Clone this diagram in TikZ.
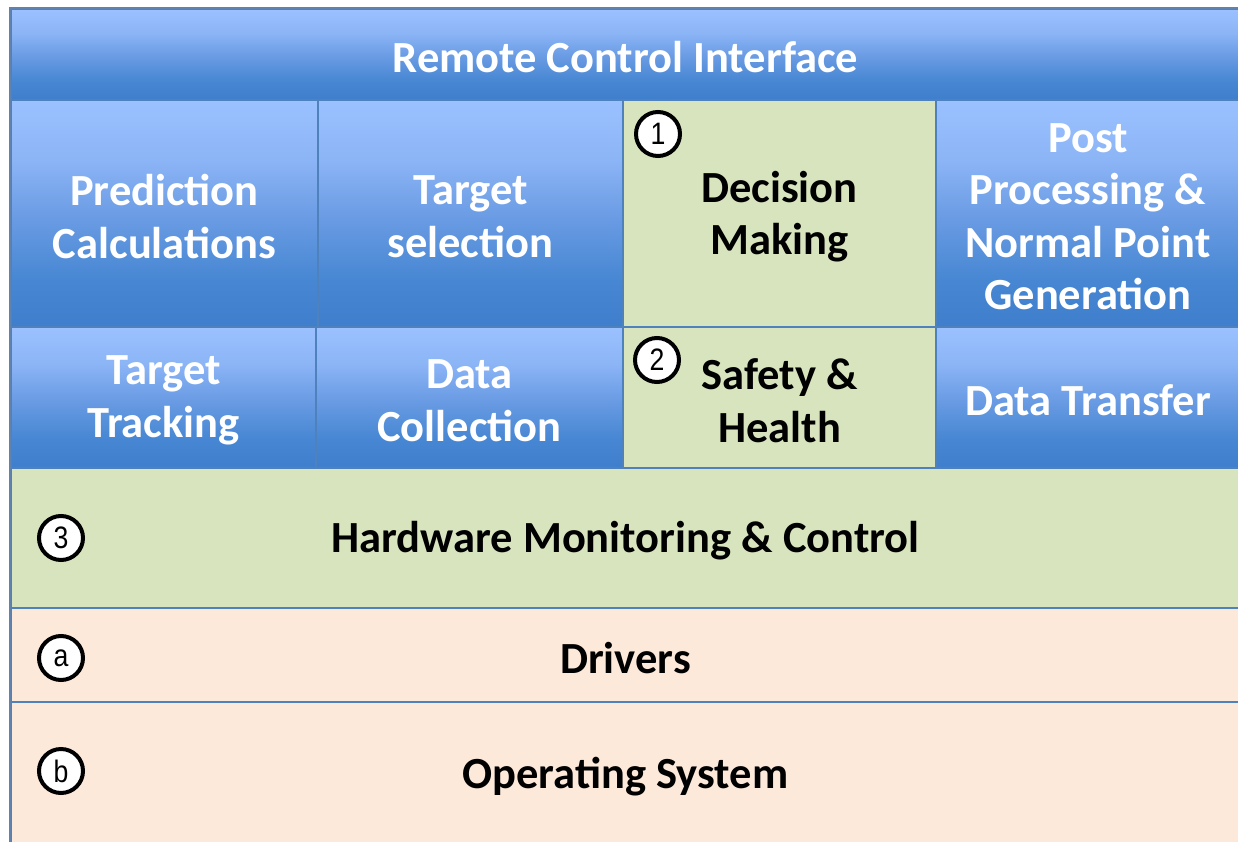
\documentclass[tikz,border=0pt]{standalone}
\usepackage{fontspec}
\usepackage{graphicx}
\setmainfont{Carlito}
\newfontfamily\badgefont{Liberation Sans}

\definecolor{blueTop}{RGB}{155,193,255}
\definecolor{blueUpper}{RGB}{140,181,246}
\definecolor{blueMid}{RGB}{108,157,229}
\definecolor{blueLow}{RGB}{70,134,210}
\definecolor{blueBase}{RGB}{63,126,204}
\definecolor{gridline}{RGB}{79,129,189}
\definecolor{outline}{RGB}{95,130,175}
\definecolor{greenFill}{RGB}{216,228,190}
\definecolor{peachFill}{RGB}{253,233,218}

% light blue at the top, deepening towards the bottom edge
\pgfdeclareverticalshading{tilebluegrad}{100bp}{%
  color(0bp)=(blueBase); color(25bp)=(blueBase); color(35bp)=(blueLow);
  color(50bp)=(blueMid); color(62bp)=(blueUpper); color(75bp)=(blueTop);
  color(100bp)=(blueTop)}

\newcommand{\tilefont}{\fontsize{44.5}{52.5}\selectfont\bfseries}
\newcommand{\badgetext}[1]{\scalebox{0.86}[1]{#1}}

\begin{document}
\begin{tikzpicture}[x=1pt,y=-1pt,
  tile/.style={rectangle, inner sep=0pt, draw=gridline, line width=1.6pt},
  tiletext/.style={align=center, font=\tilefont, yshift=-3pt, inner sep=0pt},
  bluetile/.style={tile, shading=tilebluegrad,
    label={[tiletext, text=white]center:#1}},
  greentile/.style={tile, fill=greenFill,
    label={[tiletext, text=black]center:#1}},
  peachtile/.style={tile, fill=peachFill,
    label={[tiletext, text=black]center:#1}},
  badge/.style={circle, draw=black, line width=4pt, fill=white,
    minimum size=44pt, inner sep=0pt,
    font=\badgefont\fontsize{31}{31}\selectfont}]
\useasboundingbox (0,0) rectangle (1238,842);

% top bar
\node[bluetile={Remote Control Interface},
  minimum width=1229pt, minimum height=91pt] (rci) at (625.5,54.5) {};

% application row
\node[bluetile={Prediction\\Calculations},
  minimum width=307pt, minimum height=227pt] (pred) at (164.5,213.5) {};
\node[bluetile={Target\\selection},
  minimum width=305pt, minimum height=227pt] (tsel) at (470.5,213.5) {};
\node[greentile={Decision\\Making},
  minimum width=313pt, minimum height=227pt] (dec) at (779.5,213.5) {};
\node[bluetile={Post\\Processing \&\\Normal Point\\Generation},
  minimum width=304pt, minimum height=227pt] (post) at (1088,213.5) {};

% service row
\node[bluetile={Target\\Tracking},
  minimum width=305pt, minimum height=141pt] (track) at (163.5,397.5) {};
\node[bluetile={Data\\Collection},
  minimum width=307pt, minimum height=141pt] (coll) at (469.5,397.5) {};
\node[greentile={Safety \&\\Health},
  minimum width=313pt, minimum height=141pt] (safe) at (779.5,397.5) {};
\node[bluetile={Data Transfer},
  minimum width=304pt, minimum height=141pt] (xfer) at (1088,397.5) {};

% lower layers
\node[greentile={Hardware Monitoring \& Control},
  minimum width=1229pt, minimum height=140pt] (hw) at (625.5,538) {};
\node[peachtile={Drivers},
  minimum width=1229pt, minimum height=94pt] (drv) at (625.5,655) {};
\node[peachtile={Operating System},
  minimum width=1229pt, minimum height=143pt] (os) at (625.5,773.5) {};

% outer frame
\draw[outline, line width=1.6pt] (rci.north west) rectangle (os.south east);

% numbered badges
\node[badge] (b1) at (658,134) {\badgetext{1}};
\node[badge] (b2) at (657,360) {\badgetext{2}};
\node[badge] (b3) at (61,538) {\badgetext{3}};
\node[badge] (ba) at (61,658) {\badgetext{a}};
\node[badge] (bb) at (61,771) {\badgetext{b}};
\end{tikzpicture}
\end{document}
